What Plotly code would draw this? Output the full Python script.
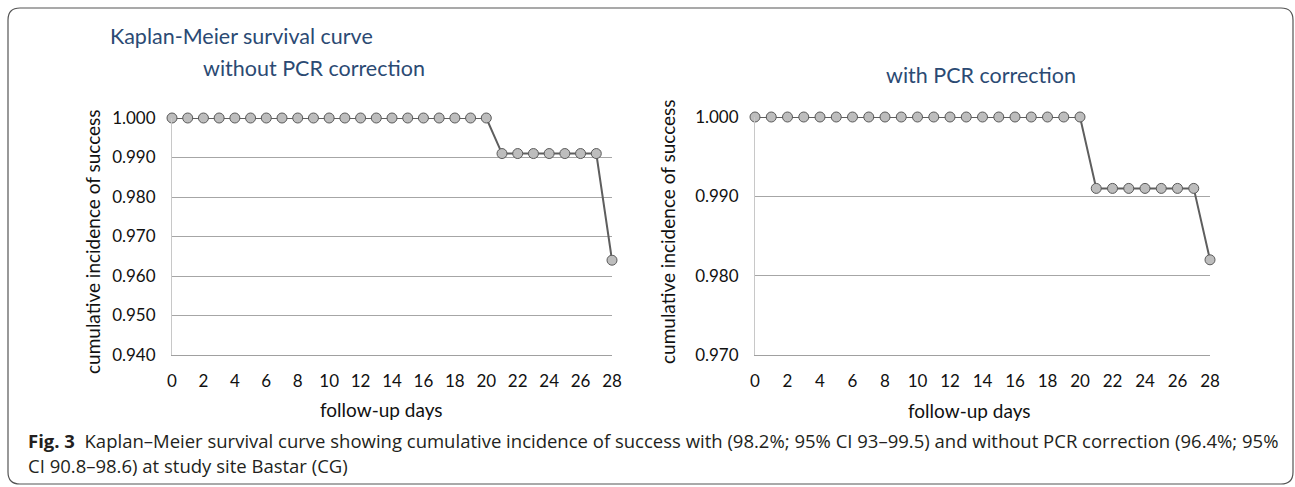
import plotly.graph_objects as go

days = list(range(0, 29))
without_pcr = [1.000] * 21 + [0.991] * 7 + [0.964]
with_pcr = [1.000] * 21 + [0.991] * 7 + [0.982]

left_yticks = [0.940, 0.950, 0.960, 0.970, 0.980, 0.990, 1.000]
right_yticks = [0.970, 0.980, 0.990, 1.000]
xtick_vals = list(range(0, 29, 2))

W, H = 1295, 487
FONT = "Lato"
CAP_FONT = "Open Sans"


def px(x):
    return x / W


def py(y):
    return 1 - y / H


fig = go.Figure()
marker = dict(size=10, color="#BDBDBD", line=dict(color="#5A5A5A", width=1))
line = dict(color="#5E5E5E", width=2)

fig.add_trace(go.Scatter(x=days, y=without_pcr, mode="lines+markers", marker=marker,
                         line=line, xaxis="x", yaxis="y", cliponaxis=False, showlegend=False))
fig.add_trace(go.Scatter(x=days, y=with_pcr, mode="lines+markers", marker=marker,
                         line=line, xaxis="x2", yaxis="y2", cliponaxis=False, showlegend=False))

tickfont = dict(family=FONT, size=17, color="#111111")
xcommon = dict(range=[0, 28], tickvals=xtick_vals, ticks="outside", ticklen=11, tickcolor="rgba(0,0,0,0)",
               showline=True, linecolor="#A0A0A0", linewidth=1, showgrid=False, zeroline=False,
               automargin=False, tickfont=tickfont, fixedrange=True)
xticks_overlay = dict(range=[0, 28], tick0=0, dtick=1, ticks="inside", ticklen=5, tickcolor="#A0A0A0",
                      showticklabels=False, showline=False, showgrid=False, zeroline=False,
                      automargin=False, fixedrange=True)
ycommon = dict(showline=True, linecolor="#C8C8C8", linewidth=1, showgrid=True, gridcolor="#A6A6A6",
               gridwidth=1, zeroline=False, ticks="outside", ticklen=12, tickcolor="rgba(0,0,0,0)",
               tickformat=".3f", automargin=False, tickfont=tickfont, fixedrange=True)

fig.update_layout(
    width=W, height=H, margin=dict(l=0, r=0, t=0, b=0, pad=0, autoexpand=False),
    paper_bgcolor="white", plot_bgcolor="white",
    xaxis=dict(domain=[px(172), px(612)], anchor="y", **xcommon),
    yaxis=dict(domain=[py(355), py(118)], anchor="x", range=[0.94, 1.0], tickvals=left_yticks, **ycommon),
    xaxis2=dict(domain=[px(755), px(1210)], anchor="y2", **xcommon),
    yaxis2=dict(domain=[py(355), py(117)], anchor="x2", range=[0.97, 1.0], tickvals=right_yticks, **ycommon),
    xaxis3=dict(overlaying="x", anchor="y", **xticks_overlay),
    xaxis4=dict(overlaying="x2", anchor="y2", **xticks_overlay),
)

title_color = "#2B4A73"
ann = [
    dict(text="Kaplan-Meier survival curve", x=px(241.5), y=py(36), size=21.5, color=title_color, angle=0),
    dict(text="without PCR correction", x=px(314), y=py(68), size=21.5, color=title_color, angle=0),
    dict(text="with PCR correction", x=px(981), y=py(75), size=21.5, color=title_color, angle=0),
    dict(text="follow-up days", x=px(381), y=py(409), size=19, color="#111111", angle=0),
    dict(text="follow-up days", x=px(970), y=py(410), size=19, color="#111111", angle=0),
    dict(text="cumulative incidence of success", x=px(93), y=py(242), size=19, color="#111111", angle=-90),
    dict(text="cumulative incidence of success", x=px(668), y=py(232), size=19, color="#111111", angle=-90),
]
annotations = []
for a in ann:
    annotations.append(dict(text=a["text"], x=a["x"], y=a["y"], xref="paper", yref="paper",
                            xanchor="center", yanchor="middle", showarrow=False, textangle=a["angle"],
                            font=dict(family=FONT, size=a["size"], color=a["color"])))

caption1 = ("<b>Fig. 3</b>  Kaplan–Meier survival curve showing cumulative incidence of success with "
            "(98.2%; 95% CI 93–99.5) and without PCR correction (96.4%; 95%")
caption2 = "CI 90.8–98.6) at study site Bastar (CG)"
annotations.append(dict(text=caption1, x=px(26), y=py(440), xref="paper", yref="paper", xanchor="left",
                        yanchor="middle", showarrow=False, font=dict(family=CAP_FONT, size=18.5, color="#231F20")))
annotations.append(dict(text=caption2, x=px(26), y=py(465), xref="paper", yref="paper", xanchor="left",
                        yanchor="middle", showarrow=False, font=dict(family=CAP_FONT, size=18.5, color="#231F20")))
fig.update_layout(annotations=annotations)

# rounded frame
x0, x1, y0, y1, r = px(8), px(1293), py(484), py(8), 12
rx, ry = r / W, r / H
path = (f"M {x0+rx},{y1} L {x1-rx},{y1} Q {x1},{y1} {x1},{y1-ry} L {x1},{y0+ry} "
        f"Q {x1},{y0} {x1-rx},{y0} L {x0+rx},{y0} Q {x0},{y0} {x0},{y0+ry} L {x0},{y1-ry} "
        f"Q {x0},{y1} {x0+rx},{y1} Z")
fig.add_shape(type="path", path=path, xref="paper", yref="paper", line=dict(color="#555555", width=1.2))

fig.write_html("out.html", config={"displayModeBar": False},
               post_script="document.body.style.margin='0';document.body.style.overflow='hidden';")
